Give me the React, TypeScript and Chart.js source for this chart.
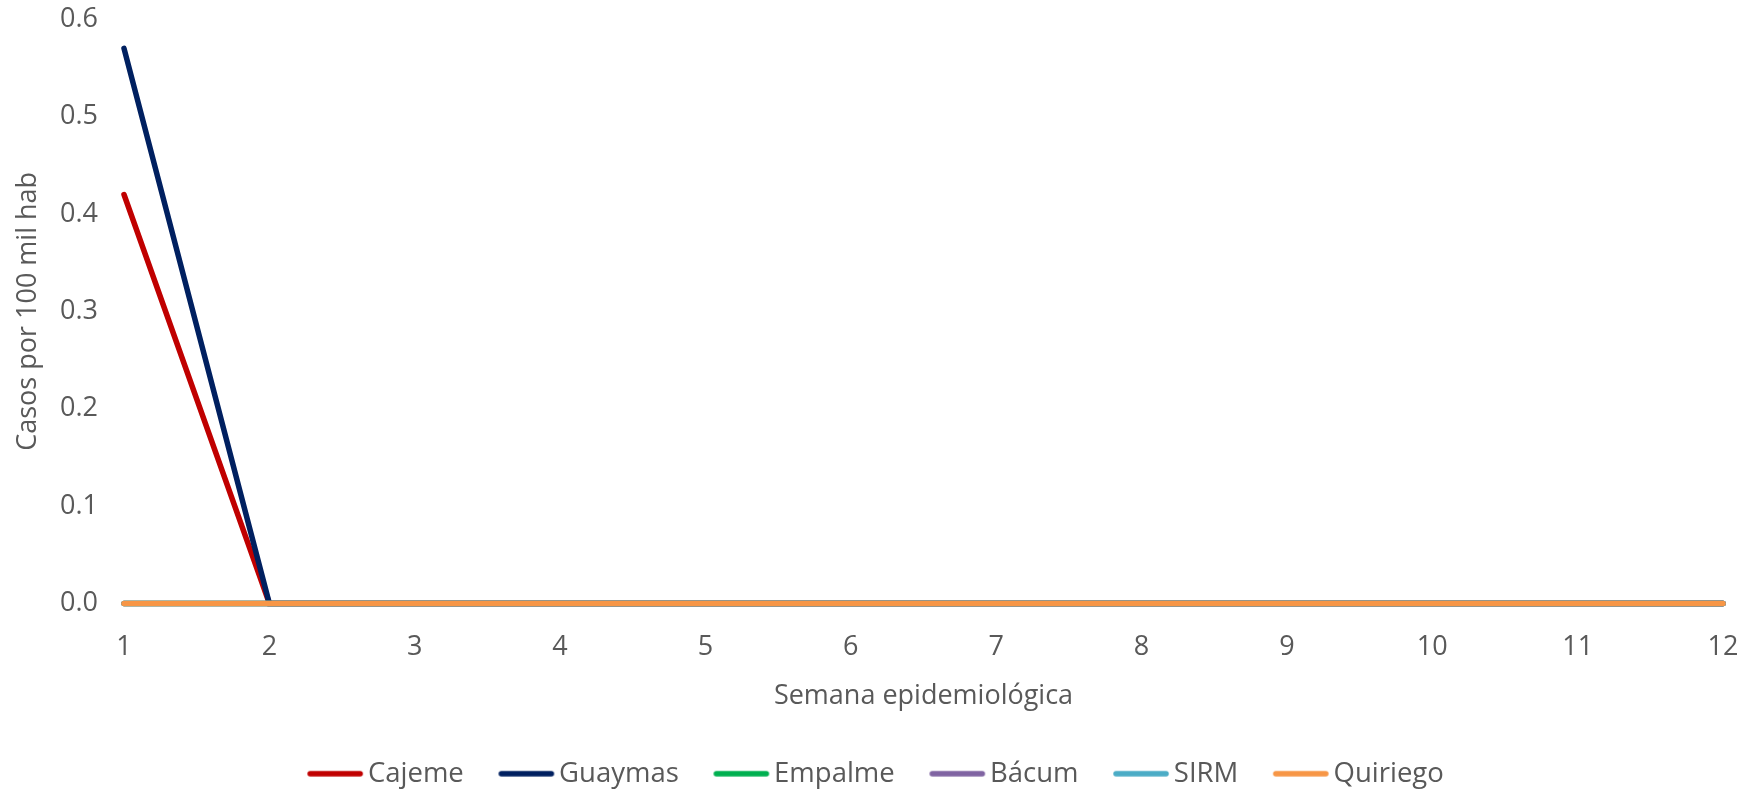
import React, { useEffect, useRef } from "react";
import { Chart, registerables } from "chart.js";

Chart.register(...registerables);

const weeks = ["1", "2", "3", "4", "5", "6", "7", "8", "9", "10", "11", "12"];
const seriesNames = ["Cajeme", "Guaymas", "Empalme", "Bácum", "SIRM", "Quiriego"];
const seriesColors = ["#C00000", "#002060", "#00B050", "#8064A2", "#4BACC6", "#F79646"];
const cajeme = [0.42, 0, 0, 0, 0, 0, 0, 0, 0, 0, 0, 0];
const guaymas = [0.57, 0, 0, 0, 0, 0, 0, 0, 0, 0, 0, 0];
const empalme = [0, 0, 0, 0, 0, 0, 0, 0, 0, 0, 0, 0];
const bacum = [0, 0, 0, 0, 0, 0, 0, 0, 0, 0, 0, 0];
const sirm = [0, 0, 0, 0, 0, 0, 0, 0, 0, 0, 0, 0];
const quiriego = [0, 0, 0, 0, 0, 0, 0, 0, 0, 0, 0, 0];
const seriesValues = [cajeme, guaymas, empalme, bacum, sirm, quiriego];
const yTitle = "Casos por 100 mil hab";
const xTitle = "Semana epidemiológica";

const FONT = "'Open Sans', sans-serif";
const TEXT = "#595959";

function legendLine(color: string): HTMLCanvasElement {
  const c = document.createElement("canvas");
  c.width = 60;
  c.height = 8;
  const g = c.getContext("2d")!;
  g.strokeStyle = color;
  g.lineWidth = 5.5;
  g.lineCap = "round";
  g.beginPath();
  g.moveTo(5, 4);
  g.lineTo(55, 4);
  g.stroke();
  return c;
}

const hiddenTicks = { display: true, drawOnChartArea: false, drawTicks: true, tickLength: 23, color: "rgba(0,0,0,0)" };

export default function App() {
  const ref = useRef<HTMLCanvasElement | null>(null);
  useEffect(() => {
    if (!ref.current) return;
    const n = seriesNames.length;
    const chart = new Chart(ref.current, {
      type: "line",
      data: {
        labels: weeks,
        datasets: seriesNames.map((name, i) => ({
          label: name,
          data: seriesValues[i],
          borderColor: seriesColors[i],
          backgroundColor: seriesColors[i],
          borderWidth: 5.5,
          pointRadius: 0,
          pointStyle: legendLine(seriesColors[i]) as any,
          tension: 0,
          borderCapStyle: "round" as const,
          clip: false as any,
          order: n - i,
        })),
      },
      options: {
        animation: false,
        responsive: true,
        maintainAspectRatio: false,
        layout: { padding: { left: 0, right: 0, top: 0, bottom: -7.5 } },
        plugins: {
          tooltip: { enabled: false },
          legend: {
            position: "bottom",
            labels: {
              usePointStyle: true,
              pointStyleWidth: 38,
              boxHeight: 8,
              padding: 43.5,
              color: TEXT,
              font: { family: FONT, size: 27.5 },
              sort: (a: any, b: any) => a.datasetIndex - b.datasetIndex,
            },
          },
        },
        scales: {
          x: {
            type: "category",
            offset: false,
            grid: { ...hiddenTicks, tickLength: 25 },
            border: { display: false },
            ticks: { color: TEXT, font: { family: FONT, size: 27 }, padding: 3, maxRotation: 0, autoSkip: false },
            title: { display: true, text: xTitle, color: TEXT, font: { family: FONT, size: 27 }, padding: { top: 4, bottom: 4 } },
            afterFit: (s: any) => { s.height = 113; s.paddingRight = 37; },
          },
          y: {
            min: 0,
            max: 0.6,
            grid: hiddenTicks,
            border: { display: false },
            ticks: {
              stepSize: 0.1,
              color: TEXT,
              font: { family: FONT, size: 27 },
              padding: 3,
              callback: (v: any) => Number(v).toFixed(1),
            },
            title: { display: true, text: yTitle, color: TEXT, font: { family: FONT, size: 27 }, padding: { top: 12, bottom: 0 } },
            afterFit: (s: any) => { s.width = 124; },
          },
        },
      },
    });
    return () => chart.destroy();
  }, []);
  return (
    <div style={{ position: "absolute", left: 0, top: 0, width: 1760, height: 790, background: "#fff" }}>
      <canvas ref={ref} />
    </div>
  );
}
